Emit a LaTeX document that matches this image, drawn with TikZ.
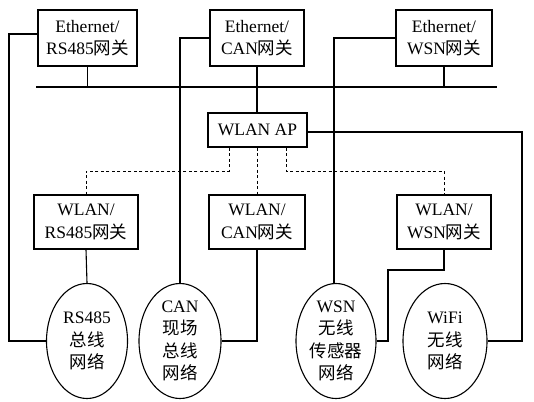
\documentclass[tikz,border=0pt]{standalone}
\usepackage{fontspec}
\setmainfont{Liberation Serif}
\newfontfamily\cjk{Noto Sans CJK SC}
\usetikzlibrary{shapes.geometric}
\begin{document}
\begin{tikzpicture}[x=1pt,y=-1pt,
  every node/.style={font=\fontsize{17.5}{22.5}\selectfont, align=center, inner sep=0pt},
  gw/.style={draw, line width=1.1pt, rectangle, minimum height=56pt},
  net/.style={draw, line width=1.1pt, ellipse, minimum height=115pt},
  ln/.style={line width=1.1pt},
  dl/.style={line width=0.9pt, dashed, dash pattern=on 3pt off 2.5pt}]
\useasboundingbox (0,0) rectangle (534,401);
% top gateways
\node[gw, minimum width=99pt] (e1) at (87.5,38) {Ethernet/\\RS485{\cjk 网关}};
\node[gw, minimum width=94pt] (e2) at (257,38) {Ethernet/\\CAN{\cjk 网关}};
\node[gw, minimum width=96pt] (e3) at (444,38) {Ethernet/\\WSN{\cjk 网关}};
% bus
\coordinate (busL) at (36,87);
\coordinate (busR) at (497,87);
\draw[ln] (busL) -- (busR);
\draw[ln] (e1.south) -- (e1.south |- busL);
\draw[ln] (e3.south) -- (e3.south |- busL);
% AP
\node[draw, line width=1.1pt, minimum width=99pt, minimum height=34pt] (ap) at (257.5,130) {WLAN AP};
\draw[ln] (e2.south) -- (ap.north -| e2.south);
% WLAN gateways
\node[gw, minimum width=104pt, minimum height=54pt] (w1) at (86,222) {WLAN/\\RS485{\cjk 网关}};
\node[gw, minimum width=96pt, minimum height=54pt] (w2) at (257,222) {WLAN/\\CAN{\cjk 网关}};
\node[gw, minimum width=94pt, minimum height=54pt] (w3) at (444,222) {WLAN/\\WSN{\cjk 网关}};
% networks
\node[net, minimum width=81pt] (n1) at (87,341) {RS485\\{\cjk 总线}\\{\cjk 网络}};
\node[net, minimum width=82pt] (n2) at (180,341) {CAN\\{\cjk 现场}\\{\cjk 总线}\\{\cjk 网络}};
\node[net, minimum width=80pt] (n3) at (336,341) {WSN\\{\cjk 无线}\\{\cjk 传感器}\\{\cjk 网络}};
\node[net, minimum width=84pt] (n4) at (445,341) {WiFi\\{\cjk 无线}\\{\cjk 网络}};
% dashed wireless links
\coordinate (d1) at (229,171);
\coordinate (d3) at (286,171);
\draw[dl] (ap.south -| d1) -- (d1) -- (d1 -| w1.north) -- (w1.north);
\draw[dl] (ap.south -| w2.north) -- (w2.north);
\draw[dl] (ap.south -| d3) -- (d3) -- (d3 -| w3.north) -- (w3.north);
% wired links
\coordinate (l1) at (9,34);
\draw[ln] (e1.west |- l1) -- (l1) -- (l1 |- n1.west) -- (n1.west);
\coordinate (l2) at (180,38);
\draw[ln] (e2.west |- l2) -- (l2) -- (n2.north);
\coordinate (l3) at (334,38);
\draw[ln] (e3.west |- l3) -- (l3) -- (l3 |- n3.north);
\draw[ln] (w1.south) -- (n1.north);
\draw[ln] (w2.south) -- (w2.south |- n2.east) -- (n2.east);
\coordinate (k1) at (444,270);
\coordinate (k2) at (388,270);
\draw[ln] (w3.south) -- (k1) -- (k2) -- (k2 |- n3.east) -- (n3.east);
\coordinate (r1) at (522,132);
\draw[ln] (ap.east |- r1) -- (r1) -- (r1 |- n4.east) -- (n4.east);
\end{tikzpicture}
\end{document}
